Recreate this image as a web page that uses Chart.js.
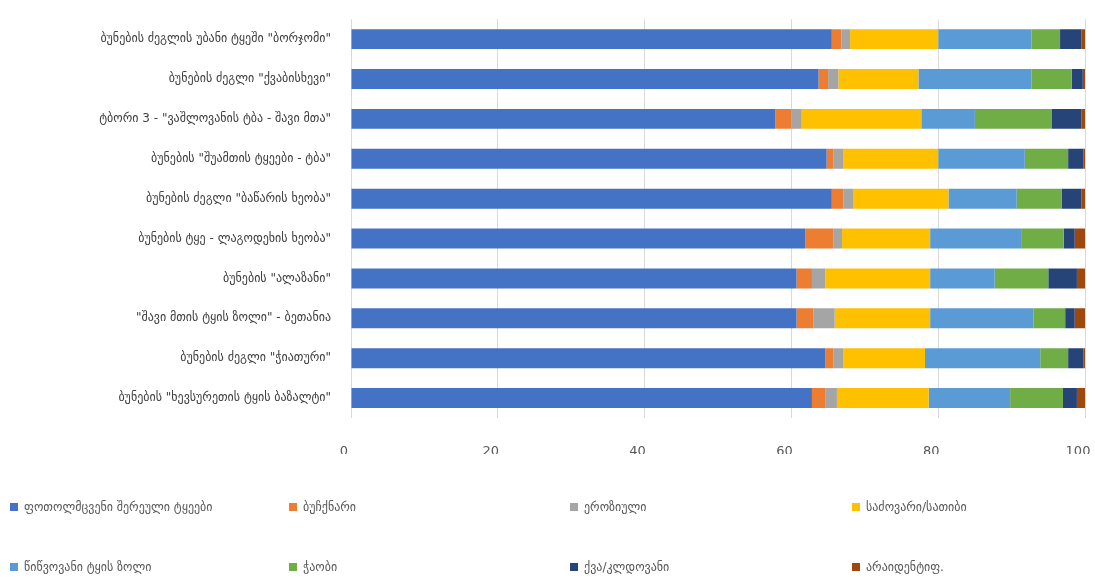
<!DOCTYPE html>
<html>
<head>
<meta charset="utf-8">
<script src="https://cdn.jsdelivr.net/npm/chart.js@4/dist/chart.umd.min.js"></script>
<style>
  html, body { margin: 0; padding: 0; background: #fff; }
  #wrap { position: relative; width: 1095px; height: 584px; overflow: hidden; }
  #legend { position: absolute; left: 0; top: 0; width: 1095px; font-family: "DejaVu Sans", sans-serif; font-size: 12px; color: #595959; }
  .item { position: absolute; white-space: nowrap; line-height: 14px; }
  .box { display: inline-block; width: 8px; height: 8px; margin-right: 6px; vertical-align: 0px; }
</style>
</head>
<body>
<div id="wrap">
  <canvas id="chart" width="1095" height="584"></canvas>
  <div id="legend"></div>
</div>
<script>
const categories = [
    'ბუნების ძეგლის უბანი ტყეში "ბორჯომი"',
    'ბუნების ძეგლი "ქვაბისხევი"',
    'ტბორი 3 - "ვაშლოვანის ტბა - შავი მთა"',
    'ბუნების "შუამთის ტყეები - ტბა"',
    'ბუნების ძეგლი "ბაწარის ხეობა"',
    'ბუნების ტყე - ლაგოდეხის ხეობა"',
    'ბუნების "ალაზანი"',
    '"შავი მთის ტყის ზოლი" - ბეთანია',
    'ბუნების ძეგლი "ჭიათური"',
    'ბუნების "ხევსურეთის ტყის ბაზალტი"'
];

const seriesNames = [
    'ფოთოლმცვენი შერეული ტყეები',
    'ბუჩქნარი',
    'ეროზიული',
    'საძოვარი/სათიბი',
    'წიწვოვანი ტყის ზოლი',
    'ჭაობი',
    'ქვა/კლდოვანი',
    'არაიდენტიფ.'
];

const seriesColors = ['#4472C4', '#ED7D31', '#A5A5A5', '#FFC000', '#5B9BD5', '#70AD47', '#264478', '#9E480E'];

const forest    = [65.5, 63.7, 57.8, 64.8, 65.5, 61.9, 60.7, 60.7, 64.6, 62.8];
const shrub     = [1.3, 1.3, 2.2, 0.9, 1.6, 3.8, 2.1, 2.3, 1.1, 1.8];
const erosion   = [1.2, 1.4, 1.4, 1.4, 1.3, 1.2, 1.8, 2.9, 1.4, 1.6];
const pasture   = [12.0, 10.9, 16.3, 12.9, 13.0, 12.0, 14.3, 13.0, 11.1, 12.5];
const conifer   = [12.7, 15.4, 7.3, 11.8, 9.3, 12.5, 8.8, 14.1, 15.7, 11.1];
const wetland   = [3.9, 5.5, 10.5, 5.9, 6.1, 5.7, 7.3, 4.3, 3.8, 7.2];
const rock      = [2.9, 1.5, 4.0, 2.1, 2.7, 1.5, 3.9, 1.3, 2.1, 1.9];
const unknown   = [0.5, 0.3, 0.5, 0.2, 0.5, 1.4, 1.1, 1.4, 0.2, 1.1];

const seriesValues = [forest, shrub, erosion, pasture, conifer, wetland, rock, unknown];
const xTicks = [0, 20, 40, 60, 80, 100];

const datasets = seriesNames.map((name, i) => ({
    label: name,
    data: seriesValues[i],
    backgroundColor: seriesColors[i],
    borderWidth: 0,
    barPercentage: 0.5,
    categoryPercentage: 1.0
}));

new Chart(document.getElementById('chart'), {
    type: 'bar',
    data: { labels: categories, datasets },
    options: {
        indexAxis: 'y',
        responsive: false,
        animation: false,
        layout: { padding: { top: 18, right: 10, bottom: 130, left: 0 } },
        plugins: { legend: { display: false }, tooltip: { enabled: false } },
        scales: {
            x: {
                stacked: true,
                min: 0,
                max: 100,
                afterBuildTicks: (scale) => { scale.ticks = xTicks.map((v) => ({ value: v })); },
                afterFit: (scale) => {
                    scale.height = 36;
                    scale.paddingLeft = 0;
                    scale.paddingRight = 0;
                },
                grid: { color: '#d9d9d9', drawTicks: false },
                border: { display: false },
                ticks: { padding: 26, labelOffset: -7, color: '#595959', font: { family: 'DejaVu Sans', size: 13 } }
            },
            y: {
                stacked: true,
                afterFit: (scale) => { scale.width = 351; },
                grid: { display: false },
                border: { display: false },
                ticks: { padding: 12, color: '#404040', font: { family: 'DejaVu Sans', size: 12 } }
            }
        }
    }
});

// legend in four fixed columns, two rows
const legendLeft = [10, 289, 570, 852];
const legendTop = [500, 560];
const legend = document.getElementById('legend');
seriesNames.forEach((name, i) => {
    const item = document.createElement('div');
    item.className = 'item';
    item.style.left = legendLeft[i % 4] + 'px';
    item.style.top = legendTop[i < 4 ? 0 : 1] + 'px';
    item.innerHTML = '<span class="box" style="background:' + seriesColors[i] + '"></span>' + name;
    legend.appendChild(item);
});
</script>
</body>
</html>
